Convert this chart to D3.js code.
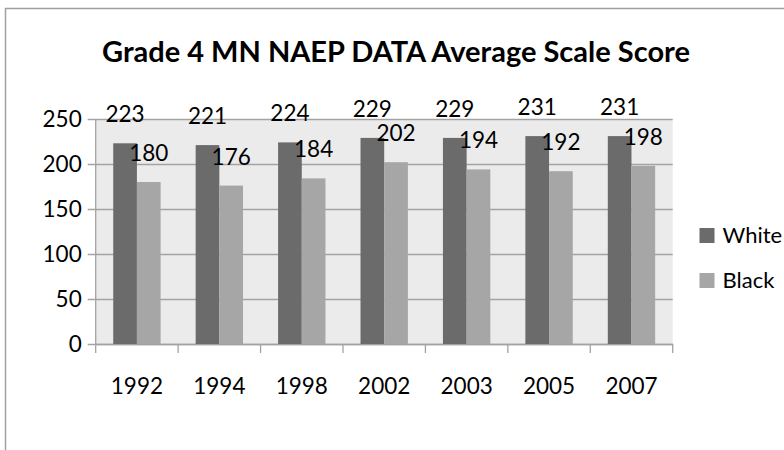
<!DOCTYPE html>
<html>
<head>
<meta charset="utf-8">
<script src="https://cdn.jsdelivr.net/npm/d3@7"></script>
<style>
    body { margin: 0; background: #ffffff; }
    svg { display: block; }
    text { font-family: Lato, "Open Sans", sans-serif; fill: #000000; }
</style>
</head>
<body>
<svg id="chart" width="784" height="450"></svg>
<script>
let years = ['1992', '1994', '1998', '2002', '2003', '2005', '2007'];
let series = ['White', 'Black'];
let white = [223, 221, 224, 229, 229, 231, 231];
let black = [180, 176, 184, 202, 194, 192, 198];
let y_ticks = [0, 50, 100, 150, 200, 250];
let title = 'Grade 4 MN NAEP DATA Average Scale Score';

let colors = {'White': '#6b6b6b', 'Black': '#a6a6a6'};
let grid_color = '#a3a3a3';

const svg = d3.select('#chart');

// outer chart border (runs off the right and bottom edge)
svg.append('rect')
    .attr('x', 5.5)
    .attr('y', 8.5)
    .attr('width', 820)
    .attr('height', 500)
    .attr('fill', '#ffffff')
    .attr('stroke', '#a0a0a0')
    .attr('stroke-width', 1.5);

const plot_left = 95.7, plot_right = 672.7, plot_top = 119, plot_bottom = 344;

const x = d3.scaleBand()
    .domain(years)
    .range([plot_left, plot_right]);

const x1 = d3.scaleBand()
    .domain(series)
    .range([0, x.bandwidth()])
    .paddingOuter(0.74)
    .paddingInner(0);

const y = d3.scaleLinear()
    .domain([0, 250])
    .range([plot_bottom, plot_top]);

let rows = years.map((yr, i) => ({year: yr, White: white[i], Black: black[i]}));

// plot area background
svg.append('rect')
    .attr('x', plot_left)
    .attr('y', plot_top)
    .attr('width', plot_right - plot_left)
    .attr('height', plot_bottom - plot_top)
    .attr('fill', '#ebebeb');

// gridlines + y axis
const yAxis = d3.axisLeft(y)
    .tickValues(y_ticks)
    .tickSize(-(plot_right - plot_left))
    .tickPadding(14)
    .tickFormat(d3.format('d'));

const gy = svg.append('g')
    .attr('transform', 'translate(' + plot_left + ',0)')
    .call(yAxis);
gy.select('.domain').remove();
gy.selectAll('.tick line')
    .attr('stroke', grid_color)
    .attr('stroke-width', 1.3)
    .attr('x1', -8);
gy.selectAll('.tick text')
    .attr('font-size', 22.5)
    .attr('fill', '#000');

// axis lines
svg.append('line')
    .attr('x1', plot_left).attr('x2', plot_left)
    .attr('y1', plot_top).attr('y2', plot_bottom)
    .attr('stroke', grid_color).attr('stroke-width', 1.3);

const xAxis = d3.axisBottom(x)
    .tickSize(0)
    .tickPadding(34);
const gx = svg.append('g')
    .attr('transform', 'translate(0,' + plot_bottom + ')')
    .call(xAxis);
gx.select('.domain')
    .attr('stroke', grid_color)
    .attr('stroke-width', 1.3);
gx.selectAll('.tick text')
    .attr('font-size', 22.5)
    .attr('fill', '#000');

// category boundary ticks
let edges = years.map(d => x(d)).concat([x(years[years.length - 1]) + x.bandwidth()]);
svg.append('g')
    .selectAll('line')
    .data(edges)
    .join('line')
    .attr('x1', d => d).attr('x2', d => d)
    .attr('y1', plot_bottom).attr('y2', plot_bottom + 9)
    .attr('stroke', grid_color)
    .attr('stroke-width', 1.3);

// bars
const groups = svg.append('g')
    .selectAll('g')
    .data(rows)
    .join('g')
    .attr('transform', d => 'translate(' + x(d.year) + ',0)');

groups.selectAll('rect')
    .data(d => series.map(s => ({key: s, value: d[s]})))
    .join('rect')
    .attr('x', d => x1(d.key))
    .attr('width', x1.bandwidth())
    .attr('y', d => y(d.value))
    .attr('height', d => plot_bottom - y(d.value))
    .attr('fill', d => colors[d.key]);

// value labels
groups.selectAll('text')
    .data(d => series.map(s => ({key: s, value: d[s]})))
    .join('text')
    .attr('x', d => x1(d.key) + x1.bandwidth() / 2)
    .attr('y', d => y(d.value) - 21)
    .attr('text-anchor', 'middle')
    .attr('font-size', 22.5)
    .text(d => d.value);

// title
svg.append('text')
    .attr('x', 396)
    .attr('y', 61.7)
    .attr('text-anchor', 'middle')
    .attr('font-size', 29)
    .attr('font-weight', 'bold')
    .text(title);

// legend
const legend = svg.append('g')
    .selectAll('g')
    .data(series)
    .join('g')
    .attr('transform', (d, i) => 'translate(699.5,' + (228 + i * 45) + ')');

legend.append('rect')
    .attr('width', 15)
    .attr('height', 15)
    .attr('fill', d => colors[d]);

legend.append('text')
    .attr('x', 23)
    .attr('y', 15)
    .attr('font-size', 22)
    .text(d => d);
</script>
</body>
</html>
